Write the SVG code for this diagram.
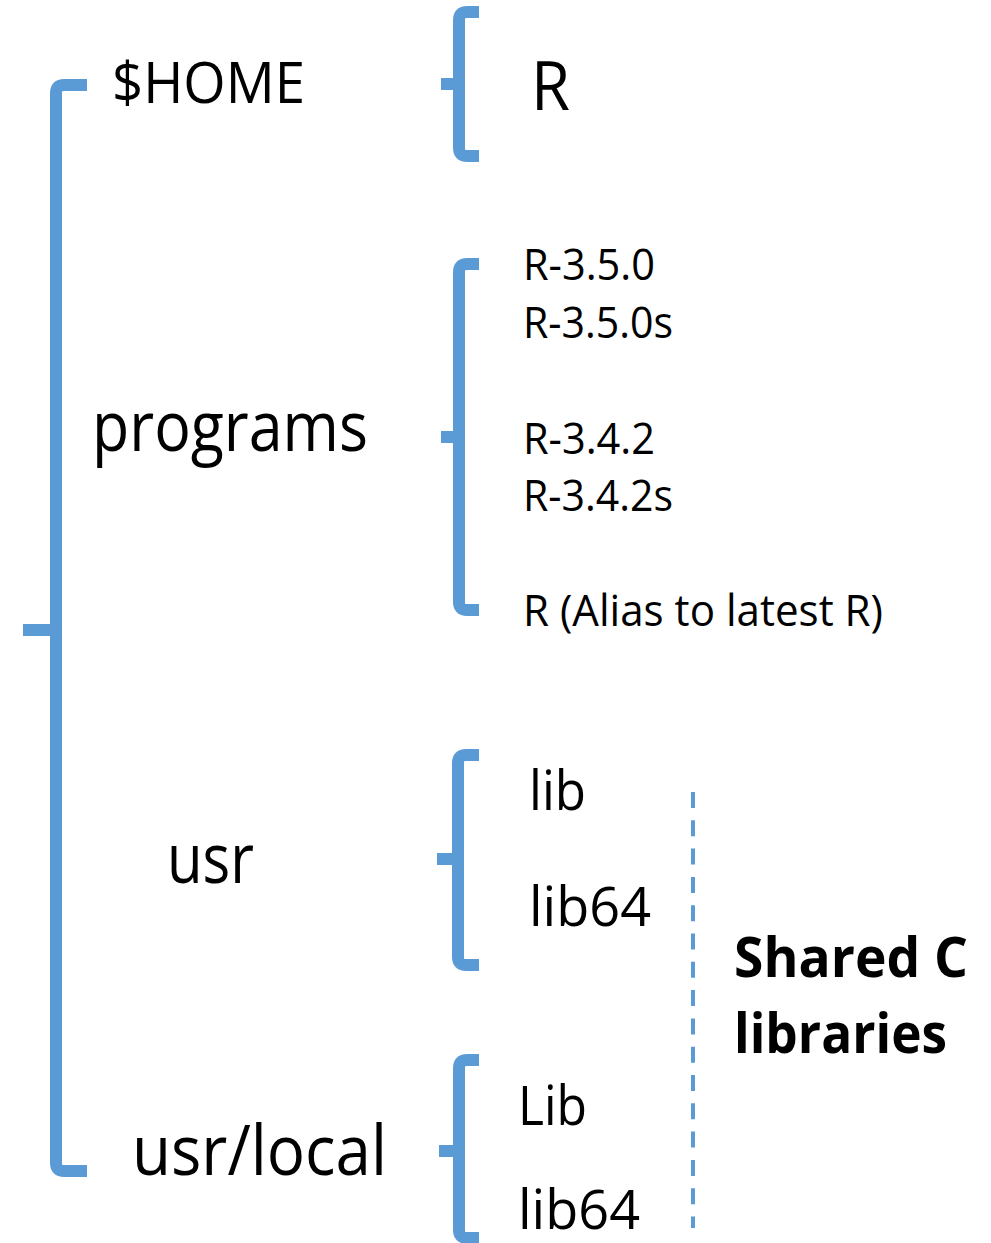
<svg xmlns="http://www.w3.org/2000/svg" width="991" height="1243" viewBox="0 0 991 1243">
<style>
.br{fill:none;stroke:#5B9BD5;stroke-width:12;stroke-linecap:butt;stroke-linejoin:round}
.t{font-family:"Open Sans","Liberation Sans",sans-serif;fill:#000}
.dash{stroke:#5B9BD5;stroke-width:4;stroke-dasharray:16 12.3;fill:none}
</style>
<rect width="991" height="1243" fill="#fff"/>
<g id="connectors">
<path class="br" d="M87,85 H64 Q56,85 56,93 V1163 Q56,1171 64,1171 H87 M23,630 H56"/>
<path class="br" d="M479,12 H467 Q459,12 459,20 V148 Q459,156 467,156 H479 M441,84 H459"/>
<path class="br" d="M479,264 H467 Q459,264 459,272 V602 Q459,610 467,610 H479 M441,437 H459"/>
<path class="br" d="M479,755 H466 Q458,755 458,763 V957 Q458,965 466,965 H479 M437,859 H458"/>
<path class="br" d="M479,1060 H467 Q459,1060 459,1068 V1230 Q459,1238 467,1238 H479 M439,1151 H459"/>
<line class="dash" x1="693" y1="792" x2="693" y2="1228"/>
</g>
<g id="home"><text class="t" x="112" y="103" font-size="56" textLength="193" lengthAdjust="spacingAndGlyphs">$HOME</text></g>
<g id="r-home"><text class="t" x="531" y="110" font-size="67" textLength="39" lengthAdjust="spacingAndGlyphs">R</text></g>
<g id="programs"><text class="t" x="92" y="451" font-size="69" textLength="276" lengthAdjust="spacingAndGlyphs">programs</text></g>
<g id="r350"><text class="t" x="523" y="280" font-size="43" textLength="132" lengthAdjust="spacingAndGlyphs">R-3.5.0</text></g>
<g id="r350s"><text class="t" x="523" y="338" font-size="43" textLength="150" lengthAdjust="spacingAndGlyphs">R-3.5.0s</text></g>
<g id="r342"><text class="t" x="523" y="454" font-size="43" textLength="132" lengthAdjust="spacingAndGlyphs">R-3.4.2</text></g>
<g id="r342s"><text class="t" x="523" y="511" font-size="43" textLength="150" lengthAdjust="spacingAndGlyphs">R-3.4.2s</text></g>
<g id="r-alias"><text class="t" x="523" y="626" font-size="43" textLength="360" lengthAdjust="spacingAndGlyphs">R (Alias to latest R)</text></g>
<g id="usr"><text class="t" x="167" y="883" font-size="69" textLength="87" lengthAdjust="spacingAndGlyphs">usr</text></g>
<g id="lib"><text class="t" x="529" y="810" font-size="55" textLength="57" lengthAdjust="spacingAndGlyphs">lib</text></g>
<g id="lib64"><text class="t" x="529" y="926" font-size="55" textLength="122" lengthAdjust="spacingAndGlyphs">lib64</text></g>
<g id="usr-local"><text class="t" x="132" y="1175" font-size="69" textLength="255" lengthAdjust="spacingAndGlyphs">usr/local</text></g>
<g id="Lib"><text class="t" x="518" y="1125" font-size="55" textLength="69" lengthAdjust="spacingAndGlyphs">Lib</text></g>
<g id="lib64-local"><text class="t" x="518" y="1229" font-size="55" textLength="122" lengthAdjust="spacingAndGlyphs">lib64</text></g>
<g id="shared"><text class="t" x="734" y="977" font-size="56" font-weight="bold" textLength="234" lengthAdjust="spacingAndGlyphs">Shared C</text><text class="t" x="734" y="1053" font-size="56" font-weight="bold" textLength="213" lengthAdjust="spacingAndGlyphs">libraries</text></g>
</svg>
